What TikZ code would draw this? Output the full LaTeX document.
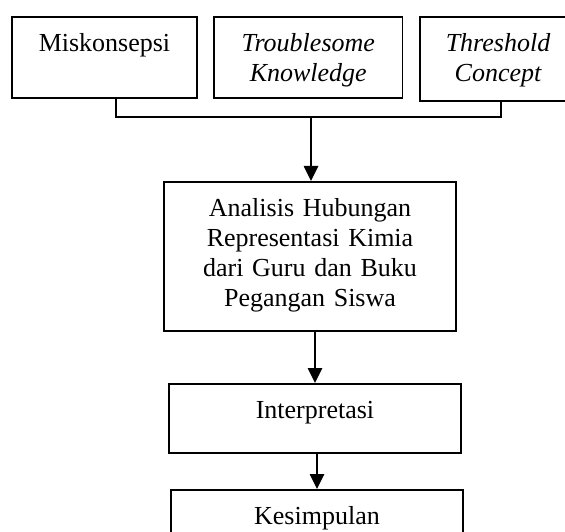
\documentclass[tikz,border=0pt]{standalone}
\usepackage{fontspec}
\setmainfont{Liberation Serif}
\usetikzlibrary{arrows.meta}
\newcommand{\ukuranhuruf}{\fontsize{26}{30}\selectfont}
\begin{document}
\begin{tikzpicture}[x=1pt, y=-1pt, >={Triangle[length=15pt,width=14pt]},
	blok/.style={draw, line width=1.8pt, anchor=north, align=center, inner sep=0pt, text height=35pt, font=\ukuranhuruf},
	miring/.style={font=\ukuranhuruf\itshape},
	garis/.style={line width=2pt},
	panah/.style={->, line width=2.6pt}]
	% batas gambar
	\useasboundingbox (0,0) rectangle (565,532);
	\clip (0,0) rectangle (565,532);
	
	% 1. kotak atas
	\node[blok, text width=185pt, text depth=46pt] (mis) at (104.5,16) {Miskonsepsi};
	\node[blok, miring, text width=188.5pt, text depth=46pt] (tk) at (308.25,16) {Troublesome\\Knowledge};
	\node[blok, miring, text width=156pt, text depth=49pt] (tc) at (498,16) {Threshold\\Concept};
	
	% 2. kotak tengah dan bawah
	\node[blok, text width=292pt, text depth=114pt] (ana) at (310,181) {Analisis Hubungan\\Representasi Kimia\\dari Guru dan Buku\\Pegangan Siswa};
	\node[blok, text width=292pt, text depth=34pt] (int) at (315,383) {Interpretasi};
	\node[blok, text width=292pt, text depth=34pt] (kes) at (317,489) {Kesimpulan};
	
	% 3. garis penghubung
	\coordinate (j) at (311,117);
	\coordinate (s) at (311,135);
	\draw[garis] ([xshift=11.5pt]mis.south) |- (j) -| ([xshift=3pt]tc.south);
	\draw[line width=1.2pt] (j) -- (s);
	
	% 4. panah
	\draw[panah] (s) -- (s |- ana.north);
	\draw[panah] (ana.south -| int.north) -- (int.north);
	\draw[panah] (int.south -| kes.north) -- (kes.north);
\end{tikzpicture}
\end{document}
